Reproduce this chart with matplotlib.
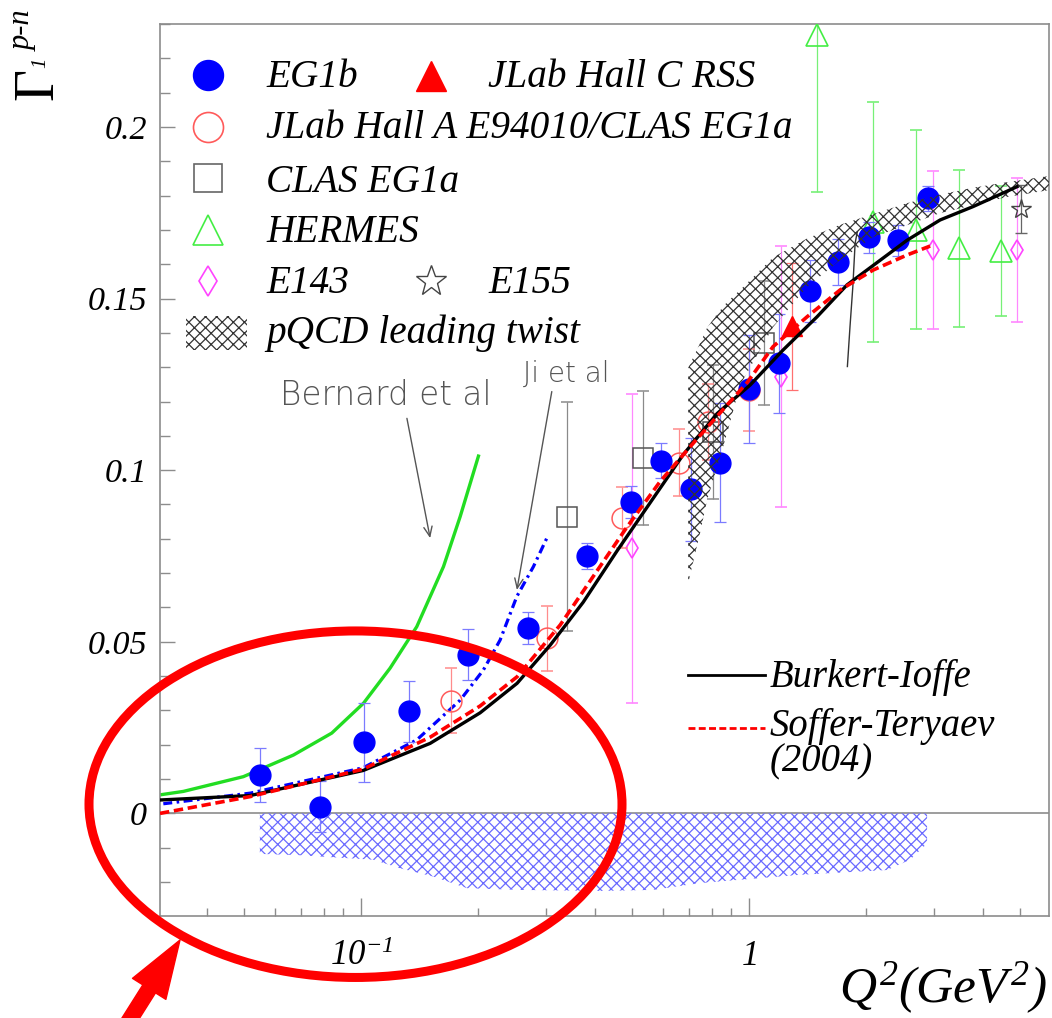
import numpy as np
import matplotlib
matplotlib.use("Agg")
import matplotlib.pyplot as plt
from matplotlib.patches import Ellipse, Rectangle, FancyArrowPatch
from matplotlib.ticker import MultipleLocator, LogLocator, NullFormatter

plt.rcParams['font.family'] = ['Liberation Serif', 'DejaVu Sans']
plt.rcParams['mathtext.fontset'] = 'custom'
plt.rcParams['mathtext.rm'] = 'Liberation Serif:italic'
plt.rcParams['mathtext.it'] = 'Liberation Serif:italic'
plt.rcParams['mathtext.bf'] = 'Liberation Serif:bold'
plt.rcParams['hatch.linewidth'] = 0.9

# ---------------- data ----------------
# EG1b (filled blue circles)
eg1b_q2 = [0.0549, 0.0784, 0.1018, 0.1332, 0.189, 0.269, 0.382, 0.4965, 0.592,
           0.7075, 0.842, 1.0, 1.197, 1.436, 1.699, 2.042, 2.424, 2.899]
eg1b_g = [0.0112, 0.0020, 0.0207, 0.0297, 0.0462, 0.0541, 0.0750, 0.0908, 0.1028,
          0.0945, 0.1022, 0.1236, 0.1311, 0.1523, 0.1607, 0.1678, 0.1670, 0.1792]
eg1b_err = [0.0079, 0.0073, 0.0116, 0.0090, 0.0074, 0.0047, 0.0039, 0.0046, 0.0052,
            0.0150, 0.0174, 0.0157, 0.0145, 0.0090, 0.0068, 0.0045, 0.0045, 0.0037]

# JLab Hall C RSS (filled red triangle)
rss_q2 = [1.288]
rss_g = [0.142]
rss_err = [0.0185]

# JLab Hall A E94010 / CLAS EG1a (open red circles)
halla_q2 = [0.1706, 0.301, 0.4697, 0.6613, 0.7854, 1.0]
halla_g = [0.0328, 0.0510, 0.0862, 0.1022, 0.1141, 0.1234]
halla_err = [0.0095, 0.0094, 0.0088, 0.0097, 0.0110, 0.0120]

# CLAS EG1a (open squares)
clas_q2 = [0.340, 0.5314, 0.8077, 1.094]
clas_g = [0.0865, 0.1035, 0.111, 0.137]
clas_err = [0.0335, 0.0195, 0.0195, 0.018]

# HERMES (open green triangles)
hermes_q2 = [1.497, 2.091, 2.686, 3.477, 4.462]
hermes_g = [0.2268, 0.1724, 0.1700, 0.1646, 0.1639]
hermes_err = [0.0457, 0.035, 0.029, 0.023, 0.019]

# E143 (open magenta diamonds)
e143_q2 = [0.4984, 1.207, 2.985, 4.914]
e143_g = [0.0773, 0.1272, 0.1641, 0.1641]
e143_err = [0.045, 0.038, 0.023, 0.021]

# E155 (open star)
e155_q2 = [5.015]
e155_g = [0.176]
e155_err = [0.007]

# Burkert-Ioffe (black solid)
bi_q2 = [0.0303, 0.0518, 0.1012, 0.1506, 0.2026, 0.2523, 0.307, 0.3734, 0.4568, 0.5557,
         0.6761, 0.827, 1.006, 1.223, 1.497, 1.789, 2.554, 3.107, 3.779, 4.906]
bi_g = [0.0039, 0.0052, 0.0125, 0.0204, 0.0293, 0.0379, 0.0490, 0.0615, 0.0765, 0.0905,
        0.1045, 0.1165, 0.1248, 0.1350, 0.1447, 0.1540, 0.1670, 0.1729, 0.1768, 0.1826]

# Soffer-Teryaev (2004) (red dashed)
st_q2 = [0.0303, 0.0518, 0.1012, 0.1506, 0.2026, 0.2523, 0.3259, 0.3962, 0.4848, 0.5897,
         0.7171, 0.8777, 0.9881, 1.153, 1.411, 1.716, 2.087, 2.554, 2.928]
st_g = [0.0000, 0.0049, 0.0129, 0.0222, 0.0313, 0.0398, 0.0549, 0.0690, 0.0835, 0.0967,
        0.1078, 0.1190, 0.1255, 0.1360, 0.1447, 0.1525, 0.1583, 0.1627, 0.1653]

# Ji et al (blue dash-dot)
ji_q2 = [0.0309, 0.0518, 0.1012, 0.1391, 0.180, 0.2066, 0.2281, 0.2519, 0.278, 0.301]
ji_g = [0.0028, 0.0059, 0.0133, 0.0214, 0.0330, 0.0418, 0.0505, 0.0632, 0.0719, 0.0802]

# Bernard et al (green solid)
bern_q2 = [0.0303, 0.0348, 0.0497, 0.0669, 0.0840, 0.1014, 0.1187, 0.1391, 0.1630, 0.1800, 0.2006]
bern_g = [0.0054, 0.0064, 0.0107, 0.0170, 0.0234, 0.0321, 0.0423, 0.0544, 0.0719, 0.0865, 0.1041]

# thin black line near Q2 ~ 1.8
thin_q2 = [1.792, 1.820, 1.851, 1.876, 1.901]
thin_g = [0.1302, 0.1418, 0.1535, 0.1661, 0.1695]

# pQCD leading twist band
pqcd_q2 = [0.6965, 0.7475, 0.7794, 0.827, 0.8777, 0.948, 1.153, 1.411, 1.716, 2.087,
           2.554, 3.107, 3.779, 4.62, 5.93]
pqcd_hi = [0.1298, 0.1370, 0.1415, 0.1455, 0.1490, 0.1525, 0.1620, 0.1675, 0.1715, 0.1746,
           0.1778, 0.1803, 0.1823, 0.1839, 0.1857]
pqcd_lo = [0.0671, 0.0817, 0.0913, 0.1009, 0.1108, 0.1248, 0.1417, 0.1534, 0.1612, 0.1679,
           0.1714, 0.1749, 0.1772, 0.1796, 0.1816]

# EG1b systematic uncertainty band (below zero)
sys_q2 = [0.0548, 0.0697, 0.0847, 0.1074, 0.126, 0.1533, 0.1875, 0.257, 0.413, 0.5657,
          0.7475, 1.353, 2.268, 2.60, 2.876]
sys_lo = [-0.0118, -0.0122, -0.0128, -0.0135, -0.0160, -0.0184, -0.0218, -0.0223, -0.0226,
          -0.0223, -0.0203, -0.0179, -0.0165, -0.0135, -0.0088]

ytick_vals = [0, 0.05, 0.1, 0.15, 0.2]
ytick_labels = ['0', '0.05', '0.1', '0.15', '0.2']
xtick_vals = [0.1, 1]
xtick_labels = [r'$10^{-1}$', r'$1$']

# ---------------- figure ----------------
W, H = 1052, 1018
fig = plt.figure(figsize=(W / 100, H / 100), dpi=100, facecolor='white')
ax = fig.add_axes([160 / W, 102 / H, 889 / W, 892 / H])
ax.set_xscale('log')
ax.set_xlim(0.0303, 5.93)
ax.set_ylim(-0.0299, 0.2300)

GRAY = '#8c8c8c'
for s in ax.spines.values():
    s.set_color(GRAY)
    s.set_linewidth(1.2)

ax.axhline(0, color=GRAY, lw=1.2, zorder=1)

# systematic band
ax.fill_between(sys_q2, sys_lo, 0, facecolor='none', edgecolor='#6a6aff',
                linewidth=0, hatch='xxx', zorder=1.5)

# model curves (behind data)
ax.plot(bern_q2, bern_g, color='#22dd22', lw=2.4, zorder=2.5)
ax.plot(ji_q2, ji_g, color='#0000ff', lw=2.3, ls=(0, (2.8, 1.4, 0.8, 1.4)), zorder=2.5)
ax.plot(thin_q2, thin_g, color='#333333', lw=1.0, zorder=5)

# data
ek = dict(elinewidth=0.9, capsize=4, capthick=0.9, linestyle='none')
ax.errorbar(clas_q2, clas_g, yerr=clas_err, marker='s', ms=15, mfc='none', mec='#555555',
            mew=1.1, ecolor='#8a8a8a', zorder=3, **ek)
ax.errorbar(e143_q2, e143_g, yerr=e143_err, marker='d', ms=10.5, mfc='none', mec='#ff44ff',
            mew=1.2, ecolor='#ff88ff', zorder=3, **ek)
ax.errorbar(hermes_q2, hermes_g, yerr=hermes_err, marker='^', ms=16, mfc='none', mec='#44ee44',
            mew=1.2, ecolor='#77f077', zorder=3, **ek)
ax.errorbar(halla_q2, halla_g, yerr=halla_err, marker='o', ms=15, mfc='none', mec='#ff5a5a',
            mew=1.1, ecolor='#ff8c8c', zorder=3.2, **ek)
ax.errorbar(e155_q2, e155_g, yerr=e155_err, marker='*', ms=15, mfc='none', mec='#444444',
            mew=1.0, ecolor='#666666', zorder=3.2, **ek)
ax.errorbar(eg1b_q2, eg1b_g, yerr=eg1b_err, marker='o', ms=15, mfc='#0000ff', mec='#0000ff',
            ecolor='#7b7bff', zorder=4, **ek)
ax.errorbar(rss_q2, rss_g, yerr=rss_err, marker='^', ms=14.5, mfc='#ff0000', mec='#ff0000',
            ecolor='#ff7070', zorder=4, **ek)

# pQCD band (drawn over the points)
ax.fill_between(pqcd_q2, pqcd_lo, pqcd_hi, facecolor='none', edgecolor='#333333',
                linewidth=0, hatch='xxx', zorder=5)

# main model curves
ax.plot(bi_q2, bi_g, color='black', lw=2.4, zorder=6)
ax.plot(st_q2, st_g, color='red', lw=2.6, ls=(0, (2.6, 1.3)), zorder=6.5)

# ---------------- ticks ----------------
ax.set_yticks(ytick_vals, labels=ytick_labels, fontsize=24.5, fontstyle='italic',
              fontfamily='Liberation Serif')
ax.yaxis.set_minor_locator(MultipleLocator(0.01))
ax.set_xticks(xtick_vals, labels=xtick_labels, fontsize=25)
ax.xaxis.set_minor_locator(LogLocator(base=10, subs=np.arange(2, 10) * 1.0, numticks=30))
ax.xaxis.set_minor_formatter(NullFormatter())

ax.tick_params(axis='both', which='both', direction='in', color=GRAY, width=1.0)
ax.tick_params(axis='y', which='major', length=11, pad=9.5)
ax.tick_params(axis='y', which='minor', length=7)
ax.tick_params(axis='x', which='major', length=13, pad=35.3)
ax.tick_params(axis='x', which='minor', length=5.5)
for t in ax.xaxis.get_major_ticks():
    t.label1.set_verticalalignment('baseline')

# ---------------- legend (top left) ----------------
LFS = 28.3
def fy(py):
    return (916 - py) / 892
def fx(px):
    return (px - 160) / 889

mk = dict(transform=ax.transAxes, clip_on=False, linestyle='none', zorder=8)
ax.plot([fx(208)], [fy(75)], marker='o', ms=21.6, mfc='#0000ff', mec='#0000ff', **mk)
ax.plot([fx(430.7)], [fy(75.5)], marker='^', ms=21, mfc='#ff0000', mec='#ff0000', **mk)
ax.plot([fx(208)], [fy(126.7)], marker='o', ms=21.6, mfc='none', mec='#ff5a5a', mew=1.2, **mk)
ax.plot([fx(208)], [fy(178.3)], marker='s', ms=20.7, mfc='none', mec='#666666', mew=1.2, **mk)
ax.plot([fx(208)], [fy(230)], marker='^', ms=21.6, mfc='none', mec='#44ee44', mew=1.2, **mk)
ax.plot([fx(208)], [fy(281)], marker='d', ms=14.8, mfc='none', mec='#ff44ff', mew=1.2, **mk)
ax.plot([fx(430.7)], [fy(281)], marker='*', ms=22.5, mfc='none', mec='#444444', mew=1.0, **mk)
ax.add_patch(Rectangle((fx(186), fy(350)), 60.7 / 889, 34 / 892, transform=ax.transAxes,
                       facecolor='none', edgecolor='#333333', linewidth=0, hatch='xxx', zorder=8))

tk = dict(transform=ax.transAxes, fontsize=LFS, fontstyle='italic', family='Liberation Serif',
          ha='left', va='baseline', zorder=8)
ax.text(fx(266), 0.929, 'EG1b', **tk)
ax.text(fx(488), 0.929, 'JLab Hall C RSS', **tk)
ax.text(fx(266), 0.8718, 'JLab Hall A E94010/CLAS EG1a', **tk)
ax.text(fx(266), 0.812, 'CLAS EG1a', **tk)
ax.text(fx(266), 0.756, 'HERMES', **tk)
ax.text(fx(266), 0.698, 'E143', **tk)
ax.text(fx(488), 0.698, 'E155', **tk)
ax.text(fx(266), 0.6424, 'pQCD leading twist', **tk)

# ---------------- legend (bottom right) ----------------
ax.plot([fx(688), fx(765)], [fy(675)] * 2, color='black', lw=2.0, transform=ax.transAxes, zorder=8)
ax.plot([fx(688), fx(765)], [fy(728.3)] * 2, color='red', lw=2.0, ls=(0, (2.5, 1.2)),
        transform=ax.transAxes, zorder=8)
tk2 = dict(tk)
tk2['fontsize'] = 27.8
ax.text(fx(770), fy(686.7), 'Burkert-Ioffe', **tk2)
ax.text(fx(770), fy(771.7), 'Soffer-Teryaev\n(2004)', linespacing=0.95, **tk2)

# ---------------- annotations ----------------
ann = dict(family='DejaVu Sans', color='#555555', fontweight='light', ha='left', va='baseline')
ax.text(0.0618, 0.119, 'Bernard et al', fontsize=23.5, **ann)
ax.text(0.2616, 0.1258, 'Ji et al', fontsize=20, **ann)
ap = dict(arrowstyle='->,head_length=0.7,head_width=0.3', color='#555555', lw=1.0,
          shrinkA=0, shrinkB=0)
ax.annotate('', xy=(0.1506, 0.0802), xytext=(0.1312, 0.1151), arrowprops=ap)
ax.annotate('', xy=(0.252, 0.0651), xytext=(0.310, 0.1229), arrowprops=ap)

# ---------------- axis titles ----------------
rt = dict(rotation=90, rotation_mode='anchor', ha='center', va='baseline', family='Liberation Serif')
fig.text(52 / W, 1 - 83.5 / H, 'Γ', fontsize=40, **rt)
fig.text(45 / W, 1 - 62.5 / H, '1', fontsize=15, fontstyle='italic', **rt)
fig.text(30.5 / W, 1 - 30.5 / H, 'p-n', fontsize=22, fontstyle='italic', **rt)
fig.text(1047 / W, 1 - 1002 / H, r'$Q^{2}(GeV^{2})$', fontsize=37, ha='right', va='baseline')

# ---------------- red highlight ellipse and arrow ----------------
fig.add_artist(Ellipse((355.5 / W, 1 - 804.2 / H), 533 / W, 346.5 / H, transform=fig.transFigure,
                       fill=False, edgecolor='red', linewidth=6.5, zorder=20))
fig.add_artist(FancyArrowPatch((110 / W, 1 - 1051 / H), (180 / W, 1 - 940 / H),
                               transform=fig.transFigure,
                               arrowstyle='simple,head_length=2.08,head_width=1.42,tail_width=0.54',
                               mutation_scale=20, color='red', shrinkA=0, shrinkB=0, zorder=20))

fig.savefig('out.png', dpi=100, facecolor='white')
